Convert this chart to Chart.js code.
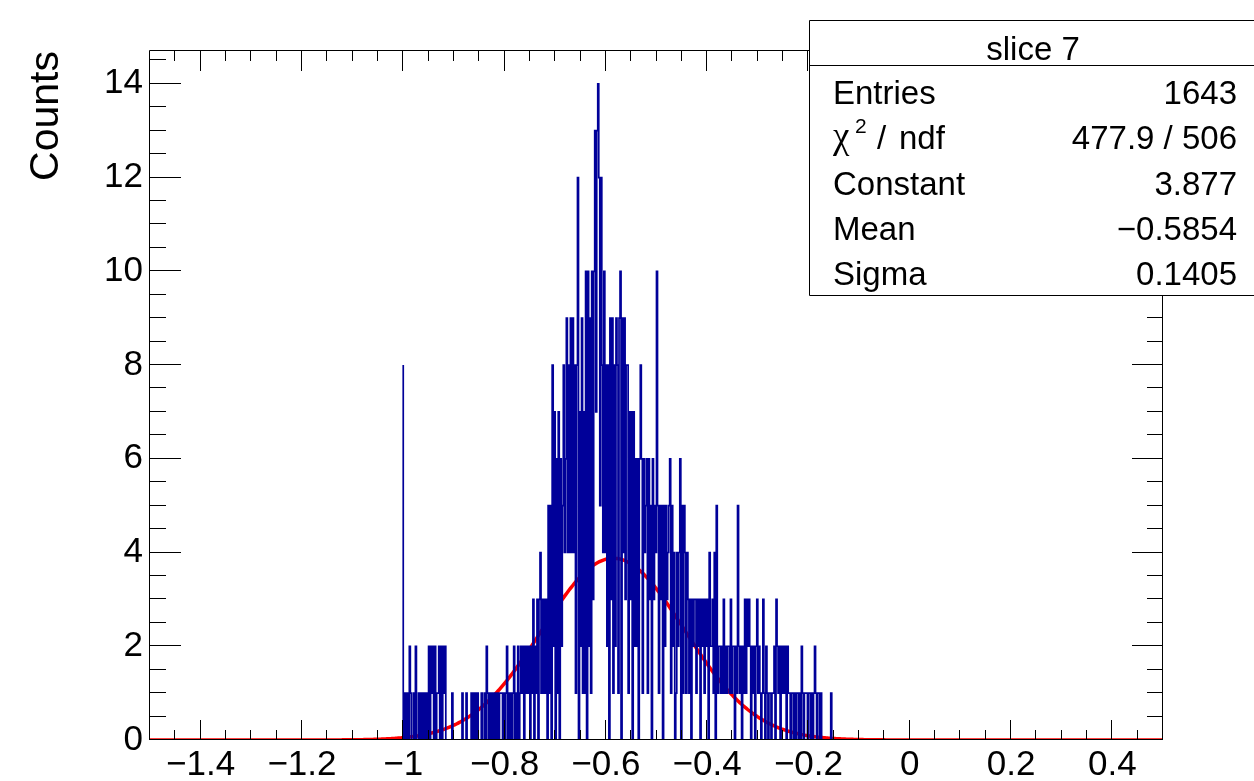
<!DOCTYPE html>
<html>
<head>
<meta charset="utf-8">
<script src="https://cdn.jsdelivr.net/npm/chart.js@4.4.1/dist/chart.umd.min.js"></script>
<style>
  html, body { margin: 0; padding: 0; background: #ffffff; overflow: hidden; }
  #wrap { width: 1254px; height: 781px; }
</style>
</head>
<body>
<div id="wrap"><canvas id="c" width="1254" height="781"></canvas></div>
<script>
// Histogram "slice 7": bin contents starting at x = -1.0, bin width 0.002
const histTitle = 'slice 7';
const binLow = -1.0;
const binWidth = 0.002;
const counts = [
  8,1,0,1,0,1,0,2,1,0,   0,1,0,2,0,0,1,0,1,0,
  1,0,1,0,1,0,2,0,2,1,   2,0,2,0,1,1,2,0,2,0,
  2,1,2,0,0,0,0,0,0,1,   0,0,0,0,0,0,0,0,0,1,
  0,0,0,1,0,0,0,0,1,0,   1,0,1,0,1,0,0,0,1,0,
  0,1,0,2,1,0,1,0,1,0,   1,0,1,0,1,0,1,1,1,0,
  1,0,1,2,0,1,0,1,0,1,   2,0,1,0,2,0,1,2,1,2,
  0,2,1,2,1,2,0,2,1,3,   0,2,1,3,0,3,4,1,3,1,
  3,1,3,0,5,1,5,0,8,2,   7,0,6,1,7,0,6,2,5,8,
  4,6,9,4,8,4,9,4,9,4,   8,1,8,12,0,7,2,9,1,7,
  1,10,0,10,2,9,1,10,3,10, 13,7,13,14,12,5,12,8,4,10,
  4,8,2,8,0,9,3,9,1,8,   2,9,8,1,9,10,0,9,4,9,
  3,8,8,1,7,3,7,0,7,2,   6,2,6,0,6,8,6,1,6,4,
  5,6,1,6,3,5,0,6,3,5,   4,10,5,1,5,3,5,0,5,2,
  5,3,4,5,6,1,5,2,4,0,   1,4,2,4,6,0,5,1,5,4,
  1,4,3,1,3,0,3,2,3,3,   1,3,2,3,0,3,2,3,1,3,
  2,3,0,4,2,2,3,1,4,0,   5,1,2,2,1,2,1,3,1,2,
  1,2,2,1,3,1,2,2,0,2,   1,5,2,1,2,0,2,1,3,1,
  3,2,3,2,0,2,1,2,0,2,   3,1,2,1,0,1,3,1,0,2,
  1,0,1,1,0,1,1,2,0,3,   2,1,2,0,2,1,2,1,2,0,
  2,1,1,0,1,1,0,1,0,1,   1,0,1,0,2,1,0,1,1,1,
  0,1,1,0,1,0,1,2,1,0,   1,1,0,1,0,0,0,0,0,0,
  0,0,0,1,0
];

// Gaussian fit result
const fitConstant = 3.877;
const fitMean = -0.5854;
const fitSigma = 0.1405;

// Statistics box rows
const statLabels = ['Entries', 'chi2', 'Constant', 'Mean', 'Sigma'];
const statValues = ['1643', '477.9 / 506', '3.877', '\u22120.5854', '0.1405'];

// Axes
const xRange = [-1.5, 0.5];
const yRange = [0, 14.7];
const xTicks = [-1.4, -1.2, -1, -0.8, -0.6, -0.4, -0.2, 0, 0.2, 0.4];
const yTicks = [0, 2, 4, 6, 8, 10, 12, 14];
const yTitle = 'Counts';

// ---- build datasets ----
const histPoints = [{ x: binLow, y: 0 }];
counts.forEach((c, i) => histPoints.push({ x: binLow + i * binWidth, y: c }));
histPoints.push({ x: binLow + counts.length * binWidth, y: 0 });

const fitPoints = [];
const nFit = 800;
for (let k = 0; k <= nFit; k++) {
  const x = xRange[0] + (xRange[1] - xRange[0]) * k / nFit;
  const z = (x - fitMean) / fitSigma;
  fitPoints.push({ x, y: fitConstant * Math.exp(-0.5 * z * z) });
}

const FONT = '"Liberation Sans", Arial, Helvetica, sans-serif';
const fmt = v => {
  const s = String(Math.round(v * 10) / 10);
  return s.replace('-', '\u2212');
};

// Frame, inward tick marks and statistics box
const rootFrame = {
  id: 'rootFrame',
  afterDraw(chart) {
    const { ctx, chartArea: a, scales: { x, y } } = chart;
    ctx.save();
    ctx.strokeStyle = '#000';
    ctx.lineWidth = 1;
    ctx.beginPath();
    ctx.rect(a.left - 0.5, a.top - 0.5, a.right - a.left, a.bottom - a.top);
    ctx.stroke();

    ctx.beginPath();
    for (let k = 0; k <= 40; k++) {
      const v = xRange[0] + 0.05 * k;
      const q = v / 0.2;
      const major = Math.abs(q - Math.round(q)) < 1e-6;
      const len = major ? 20 : 10;
      const px = Math.round(x.getPixelForValue(v)) - 0.5;
      ctx.moveTo(px, a.bottom); ctx.lineTo(px, a.bottom - len);
      ctx.moveTo(px, a.top); ctx.lineTo(px, a.top + len);
    }
    for (let k = 0; k <= 29; k++) {
      const v = 0.5 * k;
      if (v > yRange[1]) break;
      const major = k % 4 === 0;
      const len = major ? 31 : 16;
      const py = Math.round(y.getPixelForValue(v)) - 0.5;
      ctx.moveTo(a.left, py); ctx.lineTo(a.left + len, py);
      ctx.moveTo(a.right, py); ctx.lineTo(a.right - len, py);
    }
    ctx.stroke();

    // statistics box
    const bx = 809.5, by = 20.5, bw = 460, bh = 275, divY = 65.5;
    ctx.fillStyle = '#fff';
    ctx.fillRect(bx, by, bw, bh);
    ctx.beginPath();
    ctx.rect(bx, by, bw, bh);
    ctx.moveTo(bx, divY); ctx.lineTo(bx + bw, divY);
    ctx.stroke();

    ctx.fillStyle = '#000';
    ctx.font = '33px ' + FONT;
    ctx.textBaseline = 'alphabetic';
    ctx.textAlign = 'center';
    ctx.fillText(histTitle, 1033, 60);

    const rowBase = [104, 149, 195, 240, 285];
    const labelX = 833, valueX = 1237;
    statLabels.forEach((lab, i) => {
      ctx.textAlign = 'left';
      if (lab === 'chi2') {
        ctx.font = '37px "Liberation Serif", "DejaVu Serif", serif';
        ctx.fillText('\u03C7', labelX, rowBase[i] - 1);
        ctx.font = '21px ' + FONT;
        ctx.fillText('2', 855, rowBase[i] - 16);
        ctx.font = '33px ' + FONT;
        ctx.fillText('/', 877, rowBase[i]);
        ctx.fillText('ndf', 899, rowBase[i]);
      } else {
        ctx.font = '33px ' + FONT;
        ctx.fillText(lab, labelX, rowBase[i]);
      }
      ctx.textAlign = 'right';
      ctx.font = '33px ' + FONT;
      ctx.fillText(statValues[i], valueX, rowBase[i]);
    });
    ctx.restore();
  }
};

new Chart(document.getElementById('c').getContext('2d'), {
  type: 'line',
  data: {
    datasets: [
      {
        label: histTitle,
        data: histPoints,
        stepped: 'after',
        borderColor: '#000099',
        borderWidth: 1.7,
        pointRadius: 0,
        fill: false,
        order: 0,
        clip: 0
      },
      {
        label: 'gaus',
        data: fitPoints,
        borderColor: '#ff0000',
        borderWidth: 3.5,
        pointRadius: 0,
        tension: 0,
        fill: false,
        order: 1,
        clip: 0
      }
    ]
  },
  options: {
    responsive: false,
    animation: false,
    devicePixelRatio: 1,
    layout: { padding: { left: 0, top: 51, right: 91, bottom: 0 } },
    plugins: { legend: { display: false }, tooltip: { enabled: false } },
    scales: {
      x: {
        type: 'linear',
        min: xRange[0],
        max: xRange[1],
        grid: { display: false, drawTicks: false },
        border: { display: false },
        afterBuildTicks: s => { s.ticks = xTicks.map(v => ({ value: v })); },
        afterFit: s => { s.height = 41; },
        ticks: {
          autoSkip: false, maxRotation: 0, minRotation: 0, padding: 4,
          color: '#000', font: { family: FONT, size: 35 },
          callback: v => fmt(v)
        }
      },
      y: {
        type: 'linear',
        min: yRange[0],
        max: yRange[1],
        grid: { display: false, drawTicks: false },
        border: { display: false },
        afterBuildTicks: s => { s.ticks = yTicks.map(v => ({ value: v })); },
        afterFit: s => { s.width = 150; },
        ticks: {
          autoSkip: false, padding: 7,
          color: '#000', font: { family: FONT, size: 35 },
          callback: v => fmt(v)
        },
        title: {
          display: true, text: yTitle, align: 'end',
          color: '#000', font: { family: FONT, size: 41 },
          padding: { top: 22, bottom: 0 }
        }
      }
    }
  },
  plugins: [rootFrame]
});
</script>
</body>
</html>
